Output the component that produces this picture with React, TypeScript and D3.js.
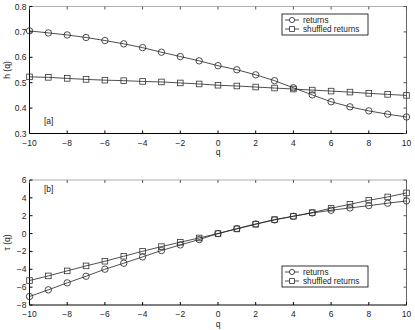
import React, { useRef, useEffect } from "react";
import * as d3 from "d3";

const qValues = [-10, -9, -8, -7, -6, -5, -4, -3, -2, -1, 0, 1, 2, 3, 4, 5, 6, 7, 8, 9, 10];

const hReturns = [0.704, 0.696, 0.688, 0.678, 0.666, 0.653, 0.638, 0.62, 0.603, 0.586, 0.567, 0.551, 0.531, 0.508, 0.48, 0.452, 0.425, 0.405, 0.389, 0.376, 0.365];
const hShuffled = [0.523, 0.521, 0.517, 0.513, 0.51, 0.508, 0.505, 0.503, 0.499, 0.495, 0.49, 0.487, 0.483, 0.479, 0.475, 0.471, 0.467, 0.463, 0.458, 0.454, 0.45];

const tauReturns = [-7.05, -6.3, -5.52, -4.78, -3.99, -3.32, -2.61, -1.9, -1.27, -0.67, 0, 0.56, 1.08, 1.53, 1.94, 2.31, 2.61, 2.87, 3.13, 3.4, 3.66];
const tauShuffled = [-5.26, -4.74, -4.18, -3.62, -3.1, -2.54, -1.98, -1.46, -0.97, -0.49, 0, 0.52, 1.04, 1.57, 1.94, 2.35, 2.84, 3.28, 3.73, 4.1, 4.55];

const xTicks = [-10, -8, -6, -4, -2, 0, 2, 4, 6, 8, 10];
const hTicks = [0.3, 0.4, 0.5, 0.6, 0.7, 0.8];
const tauTicks = [-8, -6, -4, -2, 0, 2, 4, 6];
const seriesNames = ["returns", "shuffled returns"];

const width = 415;
const height = 330;
const font = "Liberation Sans, Arial, sans-serif";

function drawPanel(vis, opts) {
  const { top, bottom, yDomain, yTicks, yFmt, series, yLabel, tag, tagY, legendY } = opts;
  const left = 29.5;
  const right = 406.5;
  const x = d3.scaleLinear().domain([-10, 10]).range([left, right]);
  const y = d3.scaleLinear().domain(yDomain).range([bottom, top]);
  const g = vis.append("g");

  // frame: top and right lighter like the matlab export
  g.append("line").attr("x1", left).attr("x2", right).attr("y1", top).attr("y2", top).attr("stroke", "#b0b0b0").attr("stroke-width", 1);
  g.append("line").attr("x1", right).attr("x2", right).attr("y1", top).attr("y2", bottom).attr("stroke", "#666").attr("stroke-width", 1);
  g.append("line").attr("x1", left).attr("x2", right).attr("y1", bottom).attr("y2", bottom).attr("stroke", "#000").attr("stroke-width", 1);
  g.append("line").attr("x1", left).attr("x2", left).attr("y1", top).attr("y2", bottom).attr("stroke", "#000").attr("stroke-width", 1);

  const tl = 3;
  xTicks.forEach((t) => {
    g.append("line").attr("x1", x(t)).attr("x2", x(t)).attr("y1", bottom).attr("y2", bottom - tl).attr("stroke", "#000");
    g.append("line").attr("x1", x(t)).attr("x2", x(t)).attr("y1", top).attr("y2", top + tl).attr("stroke", "#555");
    g.append("text").attr("x", x(t)).attr("y", bottom + 12).attr("text-anchor", "middle")
      .attr("font-family", font).attr("font-size", 8.5).attr("fill", "#222")
      .text(t < 0 ? "\u2212" + Math.abs(t) : String(t));
  });
  yTicks.forEach((t) => {
    g.append("line").attr("x1", left).attr("x2", left + tl).attr("y1", y(t)).attr("y2", y(t)).attr("stroke", "#000");
    g.append("line").attr("x1", right).attr("x2", right - tl).attr("y1", y(t)).attr("y2", y(t)).attr("stroke", "#555");
    g.append("text").attr("x", left - 3).attr("y", y(t) + 3).attr("text-anchor", "end")
      .attr("font-family", font).attr("font-size", 8.5).attr("fill", "#222")
      .text(yFmt(t));
  });

  g.append("text").attr("x", (left + right) / 2).attr("y", bottom + 21.5).attr("text-anchor", "middle")
    .attr("font-family", font).attr("font-size", 8.5).attr("fill", "#222").text("q");
  g.append("text").attr("transform", `translate(10, ${(top + bottom) / 2}) rotate(-90)`)
    .attr("text-anchor", "middle").attr("font-family", font).attr("font-size", 8.5).attr("fill", "#222").text(yLabel);
  g.append("text").attr("x", 44).attr("y", tagY).attr("font-family", font).attr("font-size", 8.5).attr("fill", "#222").text(tag);

  const line = d3.line().x((d, i) => x(qValues[i])).y((d) => y(d));
  series.forEach((vals, si) => {
    g.append("path").datum(vals).attr("d", line).attr("fill", "none").attr("stroke", "#222").attr("stroke-width", 0.8);
    const pts = g.append("g");
    vals.forEach((v, i) => {
      if (si === 0) {
        pts.append("circle").attr("cx", x(qValues[i])).attr("cy", y(v)).attr("r", 3.2)
          .attr("fill", "none").attr("stroke", "#222").attr("stroke-width", 0.8);
      } else {
        pts.append("rect").attr("x", x(qValues[i]) - 2.8).attr("y", y(v) - 2.8).attr("width", 5.6).attr("height", 5.6)
          .attr("fill", "none").attr("stroke", "#333").attr("stroke-width", 0.8);
      }
    });
  });

  // legend
  const lx = 282;
  const lg = g.append("g");
  lg.append("rect").attr("x", lx).attr("y", legendY).attr("width", 86).attr("height", 21)
    .attr("fill", "#fff").attr("stroke", "#000").attr("stroke-width", 0.8);
  seriesNames.forEach((name, i) => {
    const ly = legendY + 6 + i * 9;
    lg.append("line").attr("x1", lx + 3).attr("x2", lx + 17).attr("y1", ly).attr("y2", ly).attr("stroke", "#222").attr("stroke-width", 0.8);
    if (i === 0) {
      lg.append("circle").attr("cx", lx + 10).attr("cy", ly).attr("r", 2.6).attr("fill", "#fff").attr("stroke", "#222").attr("stroke-width", 0.8);
    } else {
      lg.append("rect").attr("x", lx + 7.6).attr("y", ly - 2.4).attr("width", 4.8).attr("height", 4.8).attr("fill", "#fff").attr("stroke", "#333").attr("stroke-width", 0.8);
    }
    lg.append("text").attr("x", lx + 21).attr("y", ly + 3).attr("font-family", font).attr("font-size", 8.2).attr("fill", "#222").text(name);
  });
}

export default function App() {
  const ref = useRef(null);

  useEffect(() => {
    const vis = d3.select(ref.current);
    vis.selectAll("*").remove();

    drawPanel(vis, {
      top: 6.5, bottom: 133.5, yDomain: [0.3, 0.8], yTicks: hTicks, yFmt: d3.format(".1f"),
      series: [hReturns, hShuffled], yLabel: "h (q)", tag: "[a]", tagY: 124, legendY: 14,
    });
    drawPanel(vis, {
      top: 180, bottom: 305, yDomain: [-8, 6], yTicks: tauTicks,
      yFmt: (t) => (t < 0 ? "\u2212" + Math.abs(t) : String(t)),
      series: [tauReturns, tauShuffled], yLabel: "\u03c4 (q)", tag: "[b]", tagY: 192, legendY: 266,
    });
  }, []);

  return (
    <svg width={width} height={height} ref={ref}
      style={{ position: "absolute", left: 0, top: 0, background: "#fff" }}></svg>
  );
}
